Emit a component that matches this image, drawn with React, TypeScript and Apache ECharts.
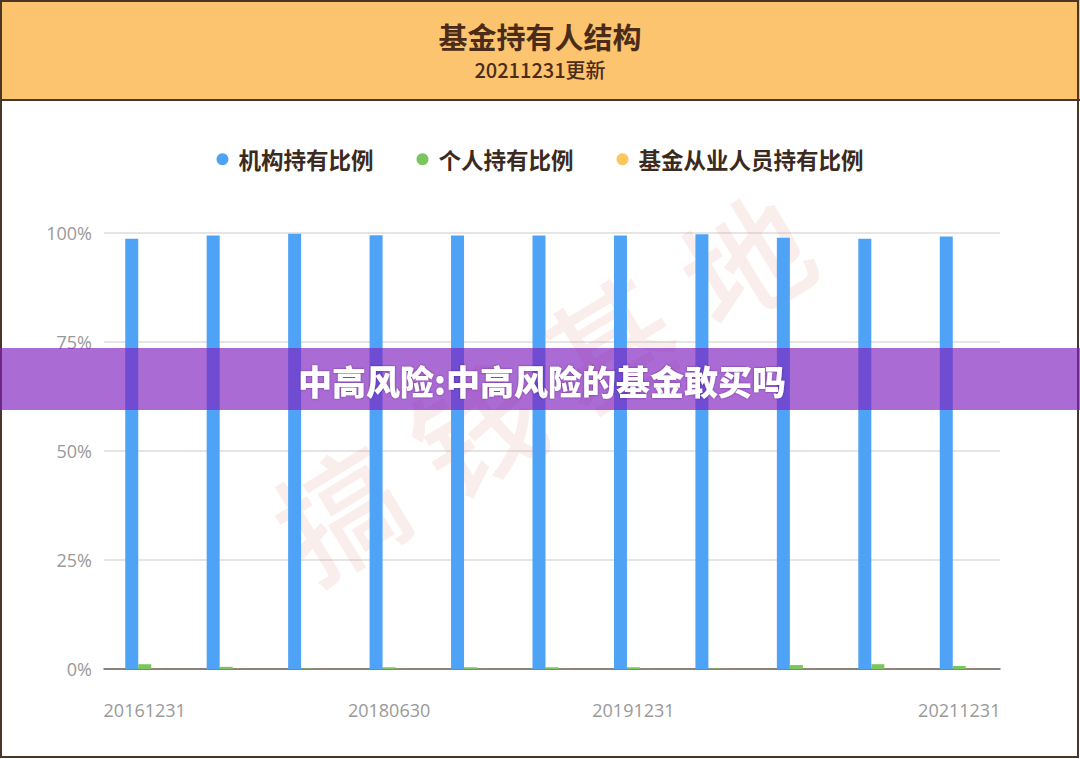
import React, { useEffect, useRef } from "react";
import * as echarts from "echarts";

const categories = [
  "20161231", "20170630", "20171231", "20180630", "20181231", "20190630",
  "20191231", "20200630", "20201231", "20210630", "20211231",
];
const institutional = [98.7, 99.4, 99.8, 99.5, 99.4, 99.4, 99.4, 99.7, 98.9, 98.7, 99.2];
const individual = [1.1, 0.5, 0.1, 0.4, 0.4, 0.4, 0.4, 0.1, 0.9, 1.1, 0.7];
const staff = [0.02, 0.02, 0.01, 0.02, 0.02, 0.02, 0.02, 0.01, 0.02, 0.02, 0.02];
const seriesNames = ["机构持有比例", "个人持有比例", "基金从业人员持有比例"];
const labelIndices = [0, 3, 6, 10];
const yTicks = [0, 25, 50, 75, 100];
const watermarkChars = ["搞", "钱", "基", "地"];

const CJK = '"Noto Sans CJK SC", "Noto Sans", sans-serif';

export default function App() {
  const ref = useRef<HTMLDivElement>(null);
  useEffect(() => {
    const chart = echarts.init(ref.current!, null, { renderer: "svg" });
    const showIdx = (i: number) => labelIndices.includes(i);
    const wm = watermarkChars.map((ch, i) => ({
      type: "text",
      z: 1,
      silent: true,
      x: 338 + i * 135,
      y: 508 - i * 84,
      rotation: 0.55,
      style: {
        text: ch,
        fontFamily: CJK,
        fontSize: 125,
        fontWeight: 500,
        fill: "rgba(215,140,120,0.15)",
        align: "center",
        verticalAlign: "middle",
      },
    }));
    chart.setOption({
      animation: false,
      backgroundColor: "#ffffff",
      title: {
        text: "基金持有人结构",
        subtext: "20211231更新",
        left: "center",
        top: 16,
        itemGap: 9,
        textStyle: { fontFamily: CJK, fontSize: 29, fontWeight: "bold", color: "#4a2c18" },
        subtextStyle: { fontFamily: CJK, fontSize: 20, fontWeight: 500, color: "#4a2c18" },
      },
      legend: {
        top: 143,
        left: "center",
        icon: "circle",
        itemWidth: 12,
        itemHeight: 12,
        itemGap: 43,
        data: seriesNames,
        textStyle: { fontFamily: CJK, fontSize: 22.5, fontWeight: "bold", color: "#3b2a20", padding: [0, 0, 0, 5] },
      },
      grid: { left: 104, right: 80, top: 233, bottom: 90, containLabel: false },
      xAxis: {
        type: "category",
        data: categories,
        axisLine: { lineStyle: { color: "#6e605a", width: 1.5 } },
        axisTick: { alignWithLabel: true, length: 5, interval: (i: number) => showIdx(i), lineStyle: { color: "#6e605a" } },
        axisLabel: {
          interval: (i: number) => showIdx(i),
          margin: 32,
          color: "#999999",
          fontSize: 18,
          fontFamily: '"Open Sans", sans-serif',
        },
      },
      yAxis: {
        type: "value",
        min: yTicks[0],
        max: yTicks[yTicks.length - 1],
        interval: 25,
        axisLine: { show: false },
        axisTick: { show: false },
        splitLine: { lineStyle: { color: "#dddddd", width: 1.5 } },
        axisLabel: {
          formatter: "{value}%",
          color: "#999999",
          fontSize: 18,
          margin: 12,
          fontFamily: '"Open Sans", sans-serif',
        },
      },
      series: [
        { name: seriesNames[0], type: "bar", data: institutional, barWidth: 13, barGap: "0%", itemStyle: { color: "#4fa3f7" }, z: 3 },
        { name: seriesNames[1], type: "bar", data: individual, barWidth: 13, barGap: "0%", itemStyle: { color: "#7ac65c" }, z: 3 },
        { name: seriesNames[2], type: "bar", data: staff, barWidth: 13, barGap: "0%", itemStyle: { color: "#fdc65c" }, z: 3 },
      ],
      graphic: [
        {
          type: "rect",
          z: -10,
          silent: true,
          shape: { x: 0, y: 0, width: 1080, height: 100 },
          style: { fill: "#fdc46f" },
        },
        {
          type: "line",
          z: 50,
          silent: true,
          shape: { x1: 0, y1: 100, x2: 1080, y2: 100 },
          style: { stroke: "#4a3526", lineWidth: 2 },
        },
        {
          type: "rect",
          z: 50,
          silent: true,
          shape: { x: 1, y: 1, width: 1077, height: 756 },
          style: { fill: "none", stroke: "#4a3526", lineWidth: 2 },
        },
        ...wm,
        {
          type: "rect",
          z: 100,
          silent: true,
          shape: { x: 0, y: 348, width: 1080, height: 62 },
          style: { fill: "rgba(128,30,190,0.66)" },
        },
        {
          type: "text",
          z: 101,
          silent: true,
          x: 542,
          y: 380,
          style: {
            text: "中高风险:中高风险的基金敢买吗",
            fontFamily: CJK,
            fontSize: 34,
            fontWeight: 900,
            fill: "#ffffff",
            align: "center",
            verticalAlign: "middle",
            textShadowColor: "rgba(60,0,90,0.5)",
            textShadowBlur: 2,
          },
        },
      ],
    });
    return () => chart.dispose();
  }, []);
  return (
    <div
      ref={ref}
      style={{ position: "fixed", left: 0, top: 0, width: 1080, height: 759 }}
    />
  );
}
